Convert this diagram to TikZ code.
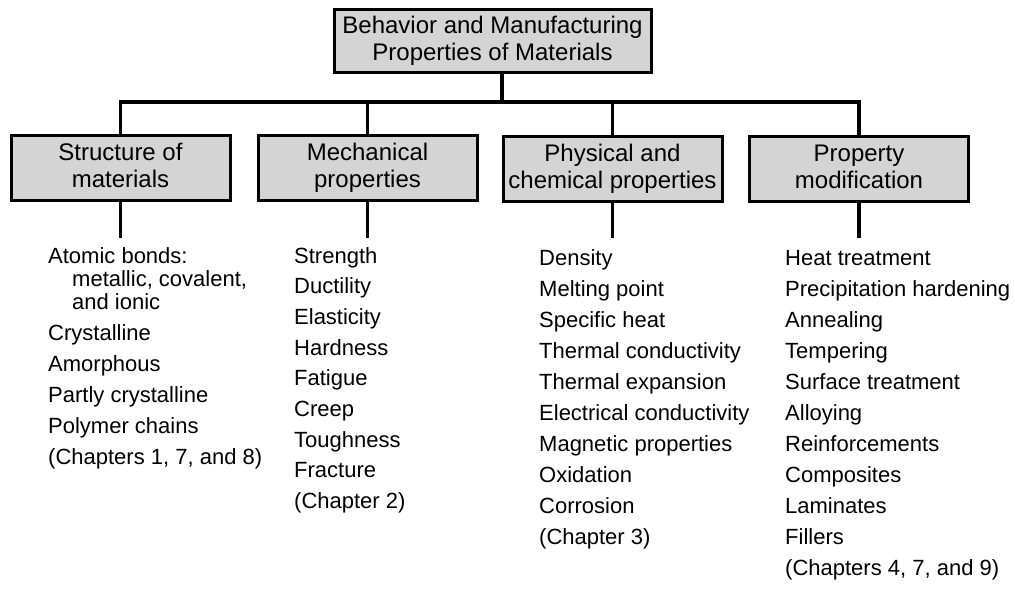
\documentclass[tikz,border=0pt]{standalone}
\usepackage{fontspec}
\setmainfont{Liberation Sans}
% balanced line strut for the two-line headings
\newcommand{\hs}{\rule[-5pt]{0pt}{22pt}}
\begin{document}
\begin{tikzpicture}[x=1pt,y=-1pt,
  catbox/.style={draw=black, line width=3pt, fill=black!17, align=center,
    inner sep=0pt, minimum width=219pt, minimum height=65pt,
    font=\fontsize{24}{27}\selectfont},
  link/.style={line width=3.2pt},
  item/.style={anchor=base west, inner sep=0pt, font=\fontsize{22}{26}\selectfont}]
\useasboundingbox (0,0) rectangle (1015,597);

% root and the four categories
\node[catbox, minimum width=317pt, minimum height=63pt] (root) at (492.5,40.5)
  {\hs Behavior and Manufacturing\\\hs Properties of Materials};
\node[catbox] (s1) at (120.5,167.5) {\hs Structure of\\\hs materials};
\node[catbox] (s2) at (367.5,167.5) {\hs Mechanical\\\hs properties};
\node[catbox] (s3) at (612.5,169) {\hs Physical and\\\hs chemical properties};
\node[catbox] (s4) at (859,169) {\hs Property\\\hs modification};

% tree connectors
\coordinate (hub) at (502,102);
\coordinate (foot) at (0,238);
\draw[link] (root.south -| hub) -- (hub);
\draw[link] (s1.north) |- (s4.north |- hub) -- (s4.north);
\draw[link] (s2.north) -- (s2.north |- hub);
\draw[link] (s3.north) -- (s3.north |- hub);
\foreach \s in {s1,s2,s3,s4}
  \draw[link] (\s.south) -- (\s.south |- foot);

% structure of materials
\node[item] (a1) at (48,263) {Atomic bonds:};
\node[item] (a2) at (72,286) {metallic, covalent,};
\node[item] (a3) at (72,309) {and ionic};
\foreach \t [count=\i] in {Crystalline, Amorphous, Partly crystalline,
    Polymer chains, {(Chapters 1, 7, and 8)}}
  \node[item] (b\i) at (48,{340+31*(\i-1)}) {\t};

% mechanical properties
\foreach \t [count=\i] in {Strength, Ductility, Elasticity, Hardness, Fatigue,
    Creep, Toughness, Fracture, (Chapter 2)}
  \node[item] (m\i) at (294,{263+30.7*(\i-1)}) {\t};

% physical and chemical properties
\foreach \t [count=\i] in {Density, Melting point, Specific heat,
    Thermal conductivity, Thermal expansion, Electrical conductivity,
    Magnetic properties, Oxidation, Corrosion, (Chapter 3)}
  \node[item] (p\i) at (539,{265+31*(\i-1)}) {\t};

% property modification
\foreach \t [count=\i] in {Heat treatment, Precipitation hardening, Annealing,
    Tempering, Surface treatment, Alloying, Reinforcements, Composites,
    Laminates, Fillers, {(Chapters 4, 7, and 9)}}
  \node[item] (q\i) at (785,{265+31*(\i-1)}) {\t};
\end{tikzpicture}
\end{document}
